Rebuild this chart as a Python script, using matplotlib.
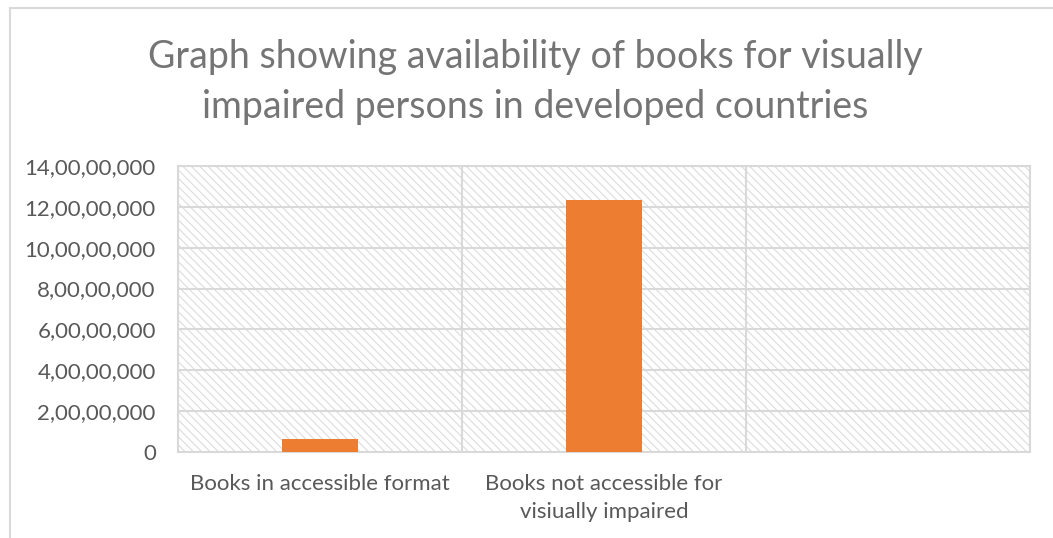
import matplotlib
matplotlib.use("Agg")
import matplotlib.pyplot as plt
from matplotlib.patches import Rectangle
from matplotlib.lines import Line2D
from matplotlib.ticker import FuncFormatter, MultipleLocator

categories = ["Books in accessible format", "Books not accessible for\nvisiually impaired", ""]
values = [6200000, 123300000, None]
title = "Graph showing availability of books for visually\nimpaired persons in developed countries"
ymax = 140000000
ystep = 20000000

plt.rcParams['font.family'] = ['Lato', 'DejaVu Sans']
plt.rcParams['hatch.color'] = '#dcdcdc'
plt.rcParams['hatch.linewidth'] = 0.8


def indian_fmt(v, pos=None):
    v = int(round(v))
    if v == 0:
        return "0"
    s = str(v)
    last3 = s[-3:]
    rest = s[:-3]
    parts = []
    while len(rest) > 2:
        parts.insert(0, rest[-2:])
        rest = rest[:-2]
    if rest:
        parts.insert(0, rest)
    return ",".join(parts + [last3])


fig = plt.figure(figsize=(10.53, 5.38), dpi=100)
ax = fig.add_axes([178/1053, 1-452/538, (1030-178)/1053, (452-166)/538])

# chart area border (top and left visible)
fig.add_artist(Line2D([10/1053, 10/1053], [0, 1-8/538], transform=fig.transFigure,
                      color='#d9d9d9', lw=1.5))
fig.add_artist(Line2D([10/1053, 1], [1-8/538, 1-8/538], transform=fig.transFigure,
                      color='#d9d9d9', lw=1.5))

n = len(categories)
ax.set_xlim(0, n)
ax.set_ylim(0, ymax)

# hatched background
bg = Rectangle((0, 0), 1, 1, transform=ax.transAxes, facecolor='white',
               edgecolor='#dcdcdc', hatch='\\' * 4, lw=0, zorder=0)
ax.add_patch(bg)

xs = [i + 0.5 for i in range(n)]
bx = [x for x, v in zip(xs, values) if v is not None]
bv = [v for v in values if v is not None]
ax.bar(bx, bv, width=0.27, color='#ed7d31', zorder=3)

ax.yaxis.set_major_locator(MultipleLocator(ystep))
ax.yaxis.set_major_formatter(FuncFormatter(indian_fmt))
ax.set_xticks(xs)
ax.set_xticklabels(categories, linespacing=1.5)
ax.xaxis.set_minor_locator(MultipleLocator(1))
ax.grid(True, axis='y', which='major', color='#d9d9d9', lw=1.5, zorder=1)
ax.grid(True, axis='x', which='minor', color='#d9d9d9', lw=1.5, zorder=1)
ax.tick_params(axis='both', which='both', length=0, labelsize=16, colors='#595959')
ax.tick_params(axis='y', pad=16)
ax.tick_params(axis='x', pad=16)
for s in ax.spines.values():
    s.set_color('#d9d9d9')
    s.set_linewidth(1.5)
ax.set_axisbelow(True)

fig.text(0.508, 1-82/538, title, ha='center', va='center', fontsize=27,
         color='#757575', linespacing=1.5)

fig.savefig("out.png", dpi=100, facecolor='white')
